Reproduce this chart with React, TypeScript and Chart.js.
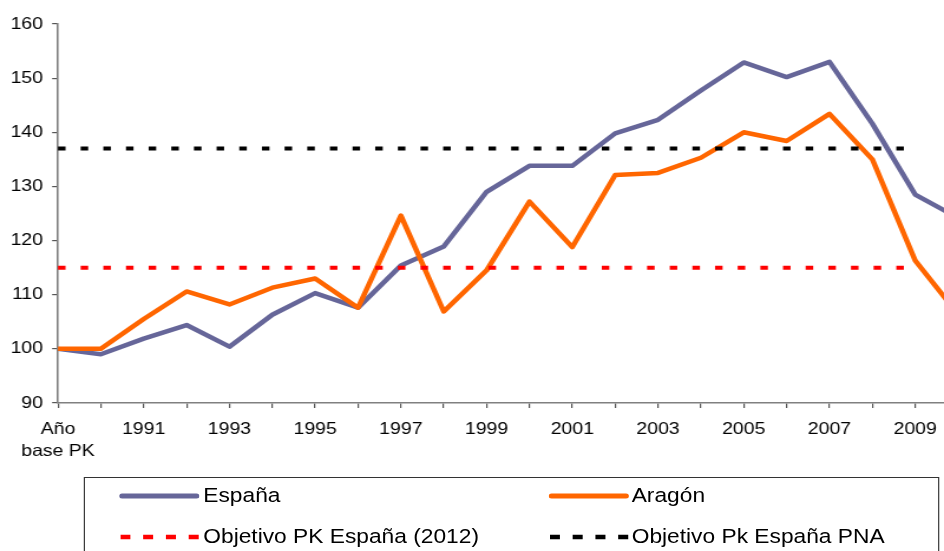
import React, { useEffect, useRef } from "react";
import { Chart, registerables } from "chart.js";

Chart.register(...registerables);

// ---- data ----
const categories = [
  "Año base PK", "1990", "1991", "1992", "1993", "1994", "1995", "1996", "1997", "1998", "1999",
  "2000", "2001", "2002", "2003", "2004", "2005", "2006", "2007", "2008", "2009", "2010",
];
const tickLabels: (string | string[])[] = [
  ["Año", "base PK"], "", "1991", "", "1993", "", "1995", "", "1997", "", "1999",
  "", "2001", "", "2003", "", "2005", "", "2007", "", "2009", "",
];
const espana = [
  100, 99.0, 101.9, 104.4, 100.4, 106.3, 110.3, 107.6, 115.4, 118.9, 129.0,
  133.8, 133.8, 139.8, 142.3, 147.7, 152.9, 150.2, 153.0, 141.6, 128.5, 124.2,
];
const aragon = [
  100, 100, 105.5, 110.6, 108.2, 111.3, 113.0, 107.6, 124.6, 106.9, 114.5,
  127.2, 118.8, 132.1, 132.5, 135.3, 140.0, 138.4, 143.4, 135.0, 116.3, 106.4,
];
const objetivo2012 = [
  115, 115, 115, 115, 115, 115, 115, 115, 115, 115, 115,
  115, 115, 115, 115, 115, 115, 115, 115, 115, 115, null,
];
const objetivoPNA = [
  137, 137, 137, 137, 137, 137, 137, 137, 137, 137, 137,
  137, 137, 137, 137, 137, 137, 137, 137, 137, 137, null,
];
const yTicks = [90, 100, 110, 120, 130, 140, 150, 160];
const seriesNames = ["España", "Aragón", "Objetivo PK España (2012)", "Objetivo Pk España PNA"];

// ---- layout ----
const S = 1.18; // horizontal stretch of the original picture
const CW = 830;
const CH = 463;
const FONT = "'Liberation Sans', Arial, Helvetica, sans-serif";

const COLORS = {
  espana: "#666699",
  aragon: "#FF6600",
  red: "#FF0000",
  black: "#000000",
};

function SolidSample({ left, top, color }: { left: number; top: number; color: string }) {
  return (
    <svg style={{ position: "absolute", left, top: top - 5 }} width={68} height={10}>
      <line x1={2.5} y1={5} x2={65.5} y2={5} stroke={color} strokeWidth={5} strokeLinecap="round" />
    </svg>
  );
}

function DashSample({ left, top, color }: { left: number; top: number; color: string }) {
  return (
    <svg style={{ position: "absolute", left, top: top - 5 }} width={68} height={10}>
      <line x1={0} y1={5} x2={67} y2={5} stroke={color} strokeWidth={4.5} strokeDasharray="8.5 10.8" />
    </svg>
  );
}

const textStyle = (left: number, top: number): React.CSSProperties => ({
  position: "absolute",
  left,
  top,
  fontFamily: FONT,
  fontSize: 19.3,
  lineHeight: "24px",
  color: "#000",
  whiteSpace: "nowrap",
});

export default function App() {
  const ref = useRef<HTMLCanvasElement>(null);

  useEffect(() => {
    Chart.defaults.font.family = FONT;
    const chart = new Chart(ref.current as HTMLCanvasElement, {
      type: "line",
      data: {
        labels: categories,
        datasets: [
          {
            label: seriesNames[2],
            data: objetivo2012,
            borderColor: COLORS.red,
            borderWidth: 4,
            borderDash: [6.4, 12.8],
            borderCapStyle: "butt",
            pointRadius: 0,
            order: 0,
            spanGaps: false,
          },
          {
            label: seriesNames[3],
            data: objetivoPNA,
            borderColor: COLORS.black,
            borderWidth: 4,
            borderDash: [6.4, 12.8],
            borderCapStyle: "butt",
            pointRadius: 0,
            order: 1,
            spanGaps: false,
          },
          {
            label: seriesNames[1],
            data: aragon,
            borderColor: COLORS.aragon,
            borderWidth: 4.5,
            borderJoinStyle: "round",
            pointRadius: 0,
            tension: 0,
            order: 2,
          },
          {
            label: seriesNames[0],
            data: espana,
            borderColor: COLORS.espana,
            borderWidth: 4.5,
            borderJoinStyle: "round",
            pointRadius: 0,
            tension: 0,
            order: 3,
          },
        ],
      },
      options: {
        animation: false,
        responsive: false,
        devicePixelRatio: 1,
        layout: { padding: { left: 0, right: CW - 811.9, top: 24, bottom: 0 } },
        plugins: {
          legend: { display: false },
          tooltip: { enabled: false },
        },
        scales: {
          x: {
            type: "category",
            border: { display: true, color: "#808080", width: 1.6 },
            grid: {
              display: true,
              drawOnChartArea: false,
              drawTicks: true,
              tickLength: 5,
              color: "#555",
              lineWidth: 1.2,
            },
            ticks: {
              autoSkip: false,
              maxRotation: 0,
              minRotation: 0,
              padding: 10,
              color: "#000",
              font: { size: 16.5, family: FONT, lineHeight: 1.333 },
              callback: (_v: any, i: number) => tickLabels[i],
            },
            afterFit: (scale: any) => {
              scale.height = 60;
            },
          },
          y: {
            min: 90,
            max: 160,
            border: { display: true, color: "#808080", width: 1.6 },
            grid: {
              display: true,
              drawOnChartArea: false,
              drawTicks: true,
              tickLength: 5,
              color: "#555",
              lineWidth: 1.2,
            },
            afterBuildTicks: (scale: any) => {
              scale.ticks = yTicks.map((v) => ({ value: v }));
            },
            ticks: {
              padding: 7.7,
              color: "#000",
              font: { size: 16.5, family: FONT },
            },
            afterFit: (scale: any) => {
              scale.width = 58 / S;
            },
          },
        },
      },
    } as any);
    return () => chart.destroy();
  }, []);

  const row1 = 496;
  const row2 = 537.3;
  const c1Sample = 119 / S;
  const c1Text = 203.3 / S;
  const c2Sample = 548.3 / S;
  const c2Text = 631.7 / S;

  return (
    <div
      style={{
        position: "fixed",
        left: 0,
        top: 0,
        width: 944,
        height: 551,
        overflow: "hidden",
        background: "#fff",
      }}
    >
      <div
        style={{
          position: "absolute",
          left: 0,
          top: 0,
          width: CW,
          height: 551,
          transform: `scaleX(${S})`,
          transformOrigin: "0 0",
        }}
      >
        <canvas
          ref={ref}
          width={CW}
          height={CH}
          style={{ position: "absolute", left: 0, top: 0, width: CW, height: CH, display: "block" }}
        />
        <div
          style={{
            position: "absolute",
            left: 84 / S,
            top: 477,
            width: (939 - 84) / S,
            height: 120,
            border: "1px solid #333",
            boxSizing: "border-box",
          }}
        />
        <SolidSample left={c1Sample} top={row1} color={COLORS.espana} />
        <div style={textStyle(c1Text, row1 - 12.5)}>{seriesNames[0]}</div>
        <SolidSample left={c2Sample} top={row1} color={COLORS.aragon} />
        <div style={textStyle(c2Text, row1 - 12.5)}>{seriesNames[1]}</div>
        <DashSample left={120 / S} top={row2} color={COLORS.red} />
        <div style={textStyle(c1Text, row2 - 12.5)}>{seriesNames[2]}</div>
        <DashSample left={550 / S} top={row2} color={COLORS.black} />
        <div style={textStyle(c2Text, row2 - 12.5)}>{seriesNames[3]}</div>
      </div>
    </div>
  );
}
